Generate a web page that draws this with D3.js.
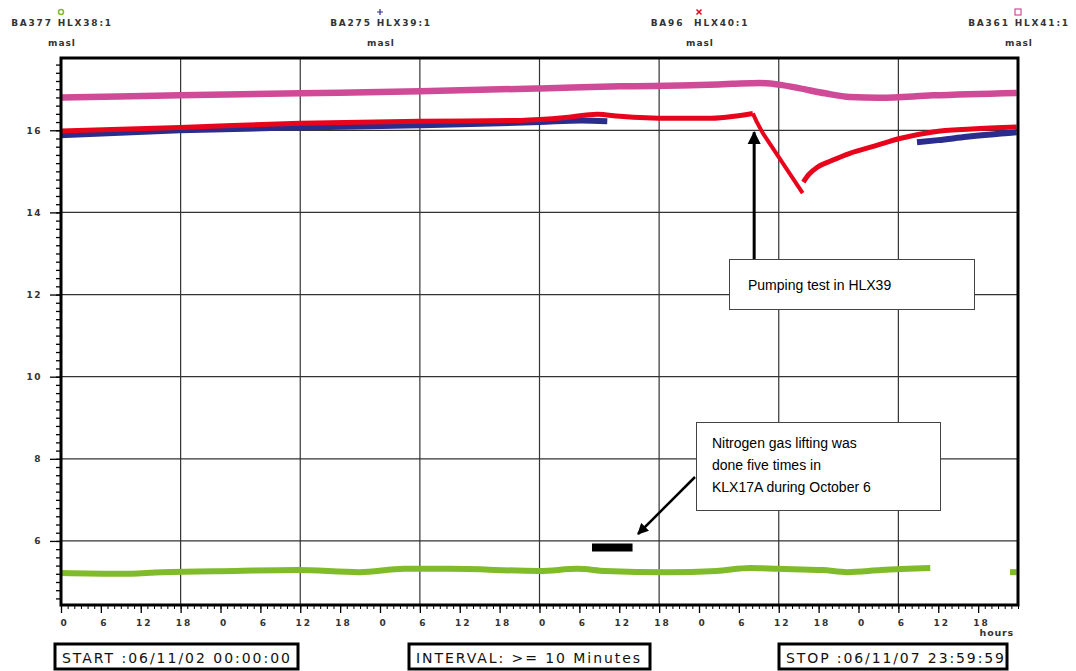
<!DOCTYPE html>
<html><head><meta charset="utf-8">
<script src="https://cdn.jsdelivr.net/npm/d3@7"></script>
<style>
html,body{margin:0;padding:0;background:#fff;}
svg{display:block;}
</style></head>
<body>
<svg id="chart" width="1076" height="671"></svg>
<script>
// ---------- data (hours since 06/11/02 00:00, water level masl) ----------
const seriesNames = ["BA377 HLX38:1","BA275 HLX39:1","BA96  HLX40:1","BA361 HLX41:1"];
const unitLabel = "masl";
const yTickValues = [6,8,10,12,14,16];
const xTickLabelsHours = [0,6,12,18];

const pinkHours = [0,17.9,36,54,72.1,84.1,96.1,101,105.2,108.5,111.2,115,118.7,123.2,131.2,143.8];
const pinkVals  = [16.80,16.85,16.90,16.95,17.02,17.07,17.10,17.13,17.15,17.10,17.02,16.90,16.81,16.79,16.85,16.91];

const redHours1 = [0,17.9,36,54,69.1,76,80.7,84.1,91.6,97.2,104.1,104.7,105.6,111.6];
const redVals1  = [15.98,16.07,16.17,16.22,16.24,16.31,16.39,16.34,16.29,16.29,16.41,16.20,15.93,14.47];
const redHours2 = [111.7,112.5,113.8,115.8,118.7,122.5,126.2,131.2,137,143.8];
const redVals2  = [14.74,14.92,15.10,15.25,15.44,15.62,15.80,15.96,16.03,16.08];

const blueHours1 = [0,17.9,36,54,72.1,78.3,82.2];
const blueVals1  = [15.88,16.00,16.07,16.12,16.20,16.24,16.22];
const blueHours2 = [128.8,132,136.3,143.8];
const blueVals2  = [15.71,15.76,15.84,15.95];

const greenHours1 = [0,9,15.2,26.2,35.5,44.9,51.6,58.4,72,77.7,81.9,91.2,98.6,103.7,107.9,114.6,118.3,123.4,130.8];
const greenVals1  = [5.22,5.20,5.24,5.27,5.29,5.24,5.32,5.32,5.27,5.32,5.27,5.24,5.27,5.34,5.32,5.29,5.24,5.29,5.34];
const greenHours2 = [142.8,143.8];
const greenVals2  = [5.24,5.24];

const startText = "START :06/11/02 00:00:00";
const intervalText = "INTERVAL: >= 10 Minutes";
const stopText = "STOP :06/11/07 23:59:59";
const note1 = ["Pumping test in HLX39"];
const note2 = ["Nitrogen gas lifting was","done five times in","KLX17A during October 6"];
const barHours = [79.9,86.0]; const barVal = 5.84;

// ---------- layout ----------
const svg = d3.select("#chart");
const L=61, R=1018, T=58, B=605;
const x = d3.scaleLinear().domain([0,144]).range([L,R]);
const y = d3.scaleLinear().domain([4.44,17.76]).range([B,T]);
const monoFont = "DejaVu Sans";

// grid
const g = svg.append("g");
g.selectAll(".vg").data(d3.range(18,144,18)).enter().append("line")
  .attr("x1",d=>x(d)).attr("x2",d=>x(d)).attr("y1",T).attr("y2",B)
  .attr("stroke","#333").attr("stroke-width",1.2);
g.selectAll(".hg").data(yTickValues).enter().append("line")
  .attr("x1",L).attr("x2",R).attr("y1",d=>y(d)).attr("y2",d=>y(d))
  .attr("stroke","#333").attr("stroke-width",1.2);

// axes
const yMinor = d3.range(4.6,17.7,0.2).map(v=>+v.toFixed(1));
svg.append("g").attr("transform",`translate(${L},0)`)
  .call(d3.axisLeft(y).tickValues(yMinor).tickSize(5).tickFormat(""))
  .call(a=>a.select(".domain").remove())
  .selectAll("line").attr("stroke","#000").attr("stroke-width",1.3);
const yMaj = svg.append("g").attr("transform",`translate(${L},0)`)
  .call(d3.axisLeft(y).tickValues(yTickValues).tickSize(11).tickPadding(8).tickFormat(d3.format("d")));
yMaj.select(".domain").remove();
yMaj.selectAll("line").attr("stroke","#000").attr("stroke-width",1.3);
yMaj.selectAll("text").attr("font-family",monoFont).attr("font-size",9).attr("font-weight","bold")
  .attr("letter-spacing","1.5px").attr("fill","#333");

const xMinor = d3.range(0,145,1);
svg.append("g").attr("transform",`translate(0,${B})`)
  .call(d3.axisBottom(x).tickValues(xMinor).tickSize(4).tickFormat(""))
  .call(a=>a.select(".domain").remove())
  .selectAll("line").attr("stroke","#000").attr("stroke-width",1);
const xMaj = svg.append("g").attr("transform",`translate(0,${B})`)
  .call(d3.axisBottom(x).tickValues(d3.range(0,144,6)).tickSize(8).tickPadding(7)
    .tickFormat(d=>xTickLabelsHours[(d%24)/6]));
xMaj.select(".domain").remove();
xMaj.selectAll("line").attr("stroke","#000").attr("stroke-width",1.3);
xMaj.selectAll("text").attr("font-family",monoFont).attr("font-size",9).attr("font-weight","bold")
  .attr("letter-spacing","2px").attr("dx",3).attr("fill","#333");
svg.append("text").attr("x",R-4).attr("y",636).attr("text-anchor","end")
  .attr("font-family",monoFont).attr("font-size",9.5).attr("font-weight","bold")
  .attr("letter-spacing","0.8px").attr("fill","#333").text("hours");

// series
const line = d3.line().x(d=>x(d[0])).y(d=>y(d[1])).curve(d3.curveMonotoneX);
const lineL = d3.line().x(d=>x(d[0])).y(d=>y(d[1]));
function draw(h,v,color,w,gen){
  svg.append("path").datum(h.map((hh,i)=>[hh,v[i]]))
    .attr("d",gen||line).attr("fill","none").attr("stroke",color)
    .attr("stroke-width",w).attr("stroke-linejoin","round").attr("stroke-linecap","butt");
}
draw(blueHours1,blueVals1,"#2b2d8c",6);
draw(blueHours2,blueVals2,"#2b2d8c",6);
draw(redHours1.slice(0,11),redVals1.slice(0,11),"#e8051c",5);
draw(redHours1.slice(10),redVals1.slice(10),"#e8051c",4,lineL);
draw(redHours2,redVals2,"#e8051c",5);
draw(pinkHours,pinkVals,"#d04b97",6.5);
draw(greenHours1,greenVals1,"#80bc2a",6);
draw(greenHours2,greenVals2,"#80bc2a",6,lineL);

// frame
svg.append("rect").attr("x",L).attr("y",T).attr("width",R-L).attr("height",B-T)
  .attr("fill","none").attr("stroke","#000").attr("stroke-width",3);

// legend at top
const legX = [0,1/3,2/3,1].map(f=>L+f*(R-L));
const legColors = ["#80bc2a","#2b2d8c","#e8051c","#d04b97"];
seriesNames.forEach((nm,i)=>{
  svg.append("text").attr("x",legX[i]+1).attr("y",26).attr("text-anchor","middle")
    .attr("font-family",monoFont).attr("font-size",9).attr("font-weight","bold")
    .attr("letter-spacing","1.8px").attr("fill","#333").attr("xml:space","preserve")
    .style("white-space","pre").text(nm);
  svg.append("text").attr("x",legX[i]+1).attr("y",46).attr("text-anchor","middle")
    .attr("font-family",monoFont).attr("font-size",9).attr("font-weight","bold")
    .attr("letter-spacing","1px").attr("fill","#333").text(unitLabel);
  const mx = legX[i], my = 12, c = legColors[i];
  if(i===0){
    svg.append("circle").attr("cx",mx).attr("cy",my).attr("r",2.5).attr("fill","none").attr("stroke",c).attr("stroke-width",1.5);
  } else if(i===1){
    svg.append("path").attr("d",`M${mx-3},${my}H${mx+3}M${mx},${my-3}V${my+3}`).attr("stroke",c).attr("stroke-width",1.2);
  } else if(i===2){
    svg.append("path").attr("d",`M${mx-2.5},${my-2.5}L${mx+2.5},${my+2.5}M${mx+2.5},${my-2.5}L${mx-2.5},${my+2.5}`).attr("stroke",c).attr("stroke-width",1.5);
  } else {
    svg.append("rect").attr("x",mx-3).attr("y",my-3).attr("width",6).attr("height",6).attr("fill","none").attr("stroke",c).attr("stroke-width",1.2);
  }
});

// annotations
svg.append("defs").append("marker").attr("id","ah").attr("viewBox","0 0 10 10")
  .attr("refX",9).attr("refY",5).attr("markerWidth",4.5).attr("markerHeight",4.5)
  .attr("orient","auto").attr("markerUnits","strokeWidth")
  .append("path").attr("d","M0,0L10,5L0,10Z").attr("fill","#000");

const pumpH = 104.3;
svg.append("line").attr("x1",x(pumpH)).attr("x2",x(pumpH)).attr("y1",260).attr("y2",y(16)+2)
  .attr("stroke","#000").attr("stroke-width",3).attr("marker-end","url(#ah)");
svg.append("rect").attr("x",729.5).attr("y",259.5).attr("width",245).attr("height",50)
  .attr("fill","#fff").attr("stroke","#444").attr("stroke-width",1);
svg.append("text").attr("x",748).attr("y",290).attr("font-family","Liberation Sans, Arial")
  .attr("font-size",14).attr("fill","#000").text(note1[0]);

svg.append("rect").attr("x",x(barHours[0])).attr("y",y(barVal)-4).attr("width",x(barHours[1])-x(barHours[0])).attr("height",8)
  .attr("fill","#000");
svg.append("line").attr("x1",695).attr("y1",477).attr("x2",638).attr("y2",534)
  .attr("stroke","#000").attr("stroke-width",2.5).attr("marker-end","url(#ah)");
svg.append("rect").attr("x",696.5).attr("y",422.5).attr("width",244).attr("height",88)
  .attr("fill","#fff").attr("stroke","#444").attr("stroke-width",1);
note2.forEach((t,i)=>{
  svg.append("text").attr("x",712).attr("y",448+i*22).attr("font-family","Liberation Sans, Arial")
    .attr("font-size",14).attr("fill","#000").text(t);
});

// bottom info boxes
const boxes = [[55,243,startText,228],[409,241,intervalText,224],[779,228,stopText,218]];
boxes.forEach(([bx,bw,t,tl])=>{
  svg.append("rect").attr("x",bx).attr("y",644).attr("width",bw).attr("height",25)
    .attr("fill","#fff").attr("stroke","#000").attr("stroke-width",3);
  svg.append("text").attr("x",bx+7).attr("y",663).attr("font-family",monoFont)
    .attr("font-size",14).attr("fill","#111")
    .attr("textLength",tl).attr("lengthAdjust","spacing").text(t);
});
</script>
</body></html>
